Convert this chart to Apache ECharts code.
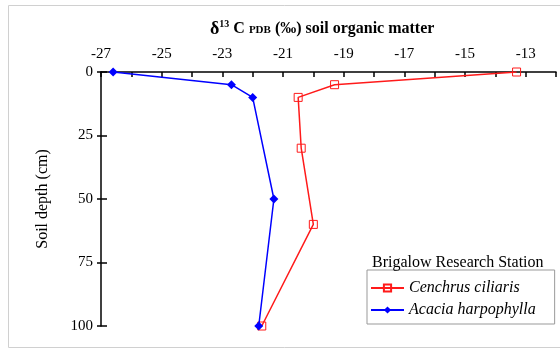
<!DOCTYPE html>
<html>
<head>
<meta charset="utf-8">
<script src="https://cdn.jsdelivr.net/npm/echarts@6/dist/echarts.min.js"></script>
<style>
  html, body { margin: 0; padding: 0; background: #fff; }
  #chart { width: 560px; height: 353px; }
</style>
</head>
<body>
<div id="chart"></div>
<script>
// depth (cm) down the profile
const cenchrusDepth = [0, 5, 10, 30, 60, 100];
const cenchrusD13C = [-13.3, -19.3, -20.5, -20.4, -20.0, -21.7];
const acaciaDepth = [0, 5, 10, 50, 100];
const acaciaD13C = [-26.6, -22.7, -22.0, -21.3, -21.8];
// x axis labels only every second tick
const xTickLabels = [-27, -25, -23, -21, -19, -17, -15, -13];

const serif = '"Liberation Serif", "DejaVu Serif", serif';

const chart = echarts.init(document.getElementById('chart'));
chart.setOption({
  animation: false,
  textStyle: { fontFamily: serif },
  title: [
    {
      text: '{d|δ}{sup|13}{b| C }{pdb|PDB}{b| (‰) soil organic matter}',
      left: 205,
      top: 14,
      textStyle: {
        rich: {
          d: { fontFamily: serif, fontWeight: 'bold', fontSize: 18, color: '#000' },
          b: { fontFamily: serif, fontWeight: 'bold', fontSize: 16, color: '#000' },
          sup: { fontFamily: serif, fontWeight: 'bold', fontSize: 10, color: '#000', padding: [0, 0, 10, 0] },
          pdb: { fontFamily: serif, fontWeight: 'bold', fontSize: 11, color: '#000', padding: [3, 0, 0, 0] }
        }
      }
    },
    {
      text: 'Brigalow Research Station',
      left: 367,
      top: 250,
      textStyle: { fontFamily: serif, fontWeight: 'normal', fontSize: 16, color: '#000' }
    }
  ],
  graphic: [
    {
      type: 'rect',
      shape: { x: 8.5, y: 5.5, width: 600, height: 342 },
      style: { fill: 'none', stroke: '#d0d0d0', lineWidth: 1 },
      silent: true,
      z: -1
    }
  ],
  legend: {
    orient: 'vertical',
    left: 367,
    top: 270,
    padding: [10, 19, 6, 3],
    itemGap: 6,
    itemWidth: 33,
    itemHeight: 9,
    borderColor: '#999',
    borderWidth: 1,
    textStyle: { fontFamily: serif, fontStyle: 'italic', fontSize: 16, color: '#000' },
    data: ['Cenchrus ciliaris', 'Acacia harpophylla']
  },
  grid: { left: 101, right: 4, top: 72, bottom: 27 },
  xAxis: {
    type: 'value',
    position: 'top',
    min: -27,
    max: -12,
    interval: 1,
    axisLine: { lineStyle: { color: '#000', width: 1.5 } },
    axisTick: { inside: true, length: 5, lineStyle: { color: '#000', width: 1.5 } },
    axisLabel: {
      margin: 10,
      fontFamily: serif,
      fontSize: 15,
      color: '#000',
      formatter: function (v) { return xTickLabels.indexOf(v) >= 0 ? String(v) : ''; }
    },
    splitLine: { show: false }
  },
  yAxis: [
    {
      type: 'value',
      position: 'left',
      inverse: true,
      min: 0,
      max: 100,
      interval: 25,
      name: 'Soil depth (cm)',
      nameLocation: 'middle',
      nameGap: 50,
      nameTextStyle: { fontFamily: serif, fontWeight: 'normal', fontSize: 16, color: '#000' },
      axisLine: { lineStyle: { color: '#000', width: 1.5 } },
      axisTick: { length: 4, lineStyle: { color: '#000', width: 1.5 } },
      axisLabel: { margin: 8, fontFamily: serif, fontSize: 15, color: '#000' },
      splitLine: { show: false }
    },
    {
      type: 'value',
      position: 'left',
      offset: 0,
      inverse: true,
      min: 0,
      max: 100,
      interval: 25,
      axisLine: { show: false },
      axisTick: { inside: true, length: 6, lineStyle: { color: '#000', width: 1.5 } },
      axisLabel: { show: false },
      splitLine: { show: false }
    }
  ],
  series: [
    {
      name: 'Cenchrus ciliaris',
      type: 'line',
      data: cenchrusDepth.map((d, i) => [cenchrusD13C[i], d]),
      symbol: 'rect',
      symbolSize: 8,
      color: '#ff1a1a',
      lineStyle: { color: '#ff1a1a', width: 1.5 },
      itemStyle: { color: 'rgba(255,255,255,0)', borderColor: '#ff1a1a', borderWidth: 1 },
      z: 2
    },
    {
      name: 'Acacia harpophylla',
      type: 'line',
      data: acaciaDepth.map((d, i) => [acaciaD13C[i], d]),
      symbol: 'diamond',
      symbolSize: 9,
      color: '#0000ff',
      lineStyle: { color: '#0000ff', width: 1.5 },
      itemStyle: { color: '#0000ff' },
      z: 3
    }
  ]
});
</script>
</body>
</html>
